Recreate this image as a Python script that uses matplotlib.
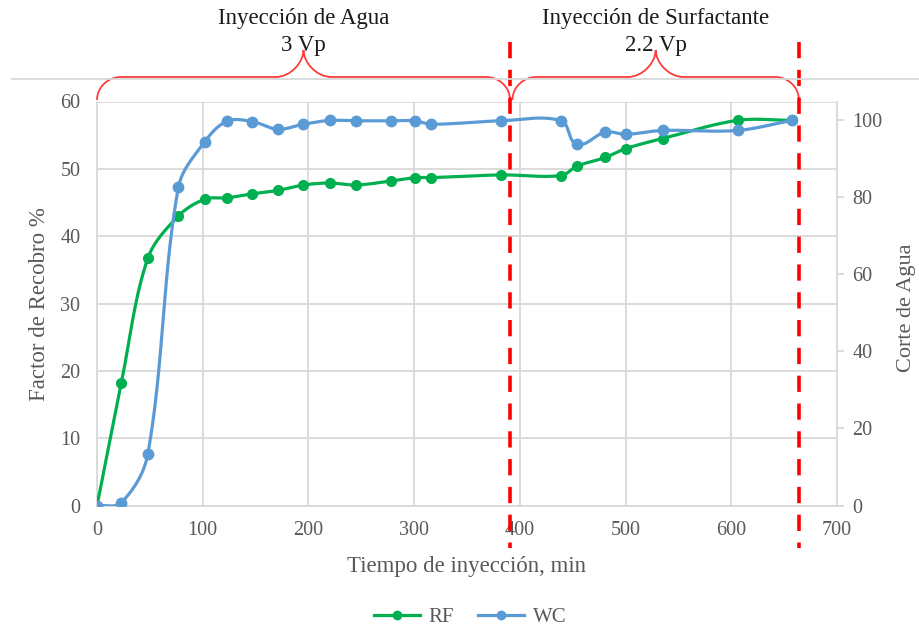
import numpy as np
import matplotlib
matplotlib.use("Agg")
import matplotlib.pyplot as plt
from matplotlib.path import Path
from matplotlib.patches import PathPatch
from matplotlib.lines import Line2D

plt.rcParams['font.family'] = ['Liberation Serif', 'DejaVu Serif']

# Injection time (min) shared by both series
tiempo = [0, 23, 48, 77, 102, 123, 147, 171, 195, 220, 245, 278, 301, 316,
          382, 439, 454, 481, 500, 535, 606, 657]
# Recovery factor (%)
rf = [0, 18.2, 36.7, 43.0, 45.5, 45.7, 46.3, 46.8, 47.6, 47.9, 47.6, 48.2,
      48.7, 48.7, 49.1, 49.0, 50.4, 51.7, 53.0, 54.5, 57.2, 57.2]
# Water cut
wc = [0, 0.8, 13.3, 82.5, 94.3, 99.6, 99.5, 97.5, 98.8, 99.8, 99.7, 99.7,
      99.7, 98.8, 99.7, 99.7, 93.6, 96.8, 96.2, 97.2, 97.2, 99.8]

x_ticks = [0, 100, 200, 300, 400, 500, 600, 700]
rf_ticks = [0, 10, 20, 30, 40, 50, 60]
wc_ticks = [0, 20, 40, 60, 80, 100]

# Stage limits (min) and labels
etapas = [(0, 390.7, "Inyección de Agua\n3 Vp"),
          (393, 664, "Inyección de Surfactante\n2.2 Vp")]
cortes = [390.7, 664]

GREEN = "#00B050"
BLUE = "#5B9BD5"
GRAY = "#595959"
GRID = "#D9D9D9"
RED = "#FF0000"

W, H = 920, 628
X_MAX, RF_MAX, WC_MAX = 700, 60, 104.7
AX_W_PX, AX_H_PX = 740, 404.2


def suavizar(x, y, sx, sy, n=30):
    """Smoothed curve through the points: cubic Bezier segments whose
    tangent handles are scaled by segment length (computed in screen units)."""
    p = np.column_stack([np.asarray(x, float) * sx, np.asarray(y, float) * sy])
    out = [p[0]]
    t = np.linspace(0, 1, n)[1:, None]
    m = len(p)

    def direc(i):
        a = p[max(i - 1, 0)]
        b = p[min(i + 1, m - 1)]
        d = b - a
        nrm = np.hypot(*d)
        return d / nrm if nrm > 0 else d

    for i in range(m - 1):
        p1, p2 = p[i], p[i + 1]
        L = np.hypot(*(p2 - p1))
        c1 = p1 + direc(i) * L / 3.0
        c2 = p2 - direc(i + 1) * L / 3.0
        seg = ((1 - t) ** 3) * p1 + 3 * ((1 - t) ** 2) * t * c1 \
            + 3 * (1 - t) * t ** 2 * c2 + t ** 3 * p2
        out.extend(seg)
    out = np.array(out)
    return out[:, 0] / sx, out[:, 1] / sy


fig = plt.figure(figsize=(W / 100, H / 100), dpi=100)
ax_l, ax_b, ax_w, ax_h = 97 / W, 1 - 505.7 / H, AX_W_PX / W, AX_H_PX / H
ax = fig.add_axes([ax_l, ax_b, ax_w, ax_h])
ax2 = ax.twinx()

ax.set_xlim(0, X_MAX)
ax.set_ylim(0, RF_MAX)
ax2.set_ylim(0, WC_MAX)
ax.set_xticks(x_ticks)
ax.set_yticks(rf_ticks)
ax2.set_yticks(wc_ticks)

ax.grid(True, color=GRID, lw=1.3)
ax.set_axisbelow(True)
for a in (ax, ax2):
    for s in a.spines.values():
        s.set_visible(False)
for a, side in ((ax, 'bottom'), (ax, 'left'), (ax2, 'right')):
    a.spines[side].set_visible(True)
    a.spines[side].set_color(GRID)
    a.spines[side].set_linewidth(1.3)

fs = 14.5
ax.tick_params(axis='x', length=0, pad=11, labelsize=fs, labelcolor=GRAY)
ax.tick_params(axis='y', length=0, pad=12, labelsize=fs, labelcolor=GRAY)
ax2.tick_params(axis='y', length=5, width=1.3, color=GRID, pad=6,
                labelsize=fs, labelcolor=GRAY)

kx = AX_W_PX / X_MAX
sx, sy = suavizar(tiempo, rf, kx, AX_H_PX / RF_MAX)
ax.plot(sx, sy, color=GREEN, lw=2.3, solid_capstyle='round', zorder=3)
ax.plot(tiempo, rf, 'o', color=GREEN, ms=7, zorder=4)
sx, sy = suavizar(tiempo, wc, kx, AX_H_PX / WC_MAX)
ax2.plot(sx, sy, color=BLUE, lw=2.3, solid_capstyle='round', zorder=3)
ax2.plot(tiempo, wc, 'o', color=BLUE, ms=7.5, zorder=4)

lfs = 16.5
ax.set_xlabel("Tiempo de inyección, min", fontsize=lfs, color=GRAY)
ax.xaxis.set_label_coords(0.5, -0.125)
ax.set_ylabel("Factor de Recobro %", fontsize=lfs, color=GRAY)
ax.yaxis.set_label_coords(-0.064, 0.5)
ax2.set_ylabel("Corte de Agua", fontsize=16, color=GRAY)
ax2.yaxis.set_label_coords(1.081, 0.49)

# Overlay: x in minutes, y in figure pixels (top = 0)
ov = fig.add_axes([ax_l, 0, ax_w, 1])
ov.set_xlim(0, X_MAX)
ov.set_ylim(H, 0)
ov.axis('off')
ov.patch.set_alpha(0)

fig.add_artist(Line2D([12 / W, 1], [1 - 79 / H, 1 - 79 / H],
                      color="#D9D9D9", lw=1.3))

px = X_MAX / AX_W_PX  # minutes per pixel


def llave(x0, x1, y_end=100, y_mid=77, y_tip=50, r_end=24, r_tip=28):
    re = r_end * px
    rt = r_tip * px
    xm = 0.5 * (x0 + x1)
    k = 0.552
    verts = [
        (x0, y_end),
        (x0, y_end - k * (y_end - y_mid)), (x0 + re * (1 - k), y_mid), (x0 + re, y_mid),
        (xm - rt, y_mid),
        (xm - rt * (1 - k), y_mid), (xm, y_mid - k * (y_mid - y_tip)), (xm, y_tip),
        (xm, y_mid - k * (y_mid - y_tip)), (xm + rt * (1 - k), y_mid), (xm + rt, y_mid),
        (x1 - re, y_mid),
        (x1 - re * (1 - k), y_mid), (x1, y_end - k * (y_end - y_mid)), (x1, y_end),
    ]
    codes = [Path.MOVETO,
             Path.CURVE4, Path.CURVE4, Path.CURVE4,
             Path.LINETO,
             Path.CURVE4, Path.CURVE4, Path.CURVE4,
             Path.CURVE4, Path.CURVE4, Path.CURVE4,
             Path.LINETO,
             Path.CURVE4, Path.CURVE4, Path.CURVE4]
    ov.add_patch(PathPatch(Path(verts, codes), fill=False, ec="#FF3B3B",
                           lw=1.3, clip_on=False, zorder=5))
    return xm


for x0, x1, txt in etapas:
    xm = llave(x0, x1)
    ov.text(xm, 32, txt, ha='center', va='center', fontsize=16.5,
            color="#1A1A1A", linespacing=1.35, clip_on=False, zorder=4)

for xc in cortes:
    ov.plot([xc, xc], [42, 548], color=RED, lw=2.6, ls=(0, (4.5, 3.2)),
            clip_on=False, zorder=6)

handles = [Line2D([], [], color=GREEN, lw=2.3, marker='o', ms=6),
           Line2D([], [], color=BLUE, lw=2.3, marker='o', ms=6)]
fig.legend(handles, ["RF", "WC"], loc='center', ncol=2,
           bbox_to_anchor=(470 / W, 1 - 617 / H), frameon=False,
           fontsize=15, labelcolor=GRAY, handlelength=2.2,
           handletextpad=0.4, columnspacing=1.2)

fig.savefig("out.png", dpi=100, facecolor='white')
